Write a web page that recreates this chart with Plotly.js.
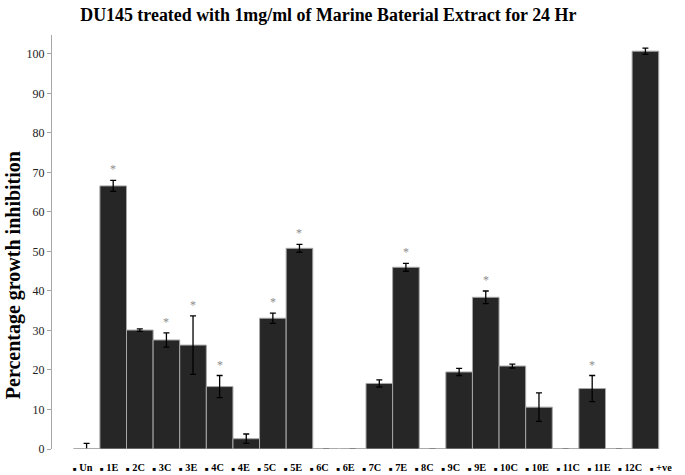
<!DOCTYPE html>
<html>
<head>
<meta charset="utf-8">
<script src="https://cdn.plot.ly/plotly-3.0.1.min.js"></script>
<style>html,body{margin:0;padding:0;background:#fff;}#chart{width:685px;height:475px;}</style>
</head>
<body>
<div id="chart"></div>
<script>
var categories = ["Un","1E","2C","3C","3E","4C","4E","5C","5E","6C","6E","7C","7E","8C","9C","9E","10C","10E","11C","11E","12C","+ve"];
var inhibition = [0, 66.6, 30.1, 27.6, 26.3, 15.8, 2.6, 33.1, 50.8, 0, 0, 16.6, 46.0, 0, 19.5, 38.4, 21.0, 10.6, 0, 15.3, 0, 100.7];
var errors = [1.4, 1.4, 0.3, 1.8, 7.4, 2.8, 1.2, 1.3, 1.0, null, null, 0.9, 1.0, null, 0.9, 1.6, 0.5, 3.6, null, 3.3, null, 0.8];
var significant = [0,1,0,1,1,1,0,1,1,0,0,0,1,0,0,1,0,0,0,1,0,0];

var serif = 'Liberation Serif, Times New Roman, serif';

var trace = {
  type: 'bar',
  x: categories,
  y: inhibition,
  marker: {color: '#262626', line: {color: '#a6a6a6', width: 1}},
  error_y: {type: 'data', array: errors, visible: true, color: '#000000', thickness: 1.3, width: 3},
  hoverinfo: 'x+y',
  showlegend: false
};

var annotations = [];
var shapes = [];
categories.forEach(function (c, i) {
  if (significant[i]) {
    annotations.push({
      x: c, y: inhibition[i] + (errors[i] || 0), xref: 'x', yref: 'y',
      text: '*', showarrow: false, yshift: 11,
      font: {family: serif, size: 12, color: '#8c8c8c'}
    });
  }
  if (inhibition[i] === 0) {
    shapes.push({
      type: 'line', xref: 'x', yref: 'y', x0: i - 0.47, x1: i + 0.47, y0: 0, y1: 0,
      line: {color: '#a6a6a6', width: 1.5}
    });
  }
});
var legendText = categories.map(function (c) {
  return '<span style="font-size:6px">■</span> ' + c;
}).join('\u00a0\u00a0\u00a0');
annotations.push({
  xref: 'paper', yref: 'paper', x: 0.51, y: -0.045, xanchor: 'center', yanchor: 'middle',
  text: legendText, showarrow: false,
  font: {family: serif, size: 10.3, color: '#000', weight: 'bold'}
});
// y-axis title (placed like the reference, slightly below the plot centre)
annotations.push({
  xref: 'paper', yref: 'paper', x: -0.062, y: 0.42, xanchor: 'center', yanchor: 'middle',
  textangle: -90, showarrow: false,
  text: '<b>Percentage growth inhibition</b>',
  font: {family: serif, size: 20, color: '#000'}
});

var layout = {
  width: 685, height: 475,
  margin: {l: 52, r: 5, t: 35, b: 26},
  paper_bgcolor: '#ffffff', plot_bgcolor: '#ffffff',
  bargap: 0,
  title: {
    text: '<b>DU145 treated with 1mg/ml of Marine Baterial Extract for 24 Hr</b>',
    x: 0.44, xref: 'paper', xanchor: 'center', y: 0.97, yanchor: 'middle',
    font: {family: serif, size: 17.9, color: '#000'}
  },
  xaxis: {
    type: 'category', range: [-1.3, 22.3], showticklabels: false,
    showline: false, showgrid: false, zeroline: false, ticks: '', fixedrange: true
  },
  yaxis: {
    range: [0, 104.8], dtick: 10, showgrid: false, zeroline: false,
    showline: true, linecolor: '#a6a6a6', linewidth: 1,
    ticks: 'outside', ticklen: 4, tickcolor: '#a6a6a6',
    tickfont: {family: serif, size: 12, color: '#222'}
  },
  shapes: shapes,
  annotations: annotations
};

Plotly.newPlot('chart', [trace], layout, {displayModeBar: false, staticPlot: true});
</script>
</body>
</html>
